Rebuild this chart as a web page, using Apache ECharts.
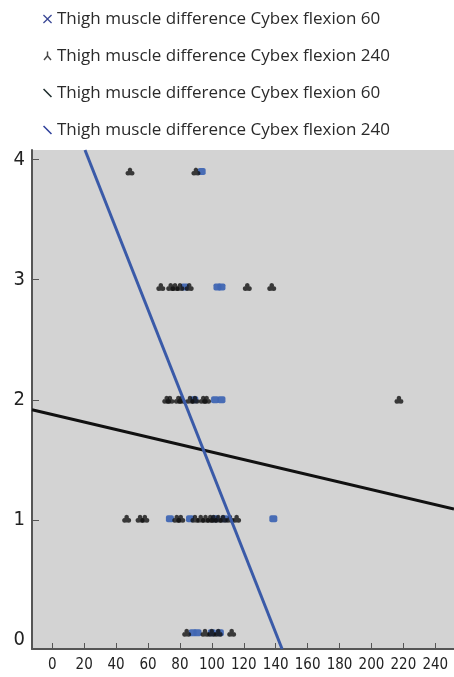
<!DOCTYPE html>
<html>
<head>
<meta charset="utf-8">
<script src="https://cdn.jsdelivr.net/npm/echarts@6/dist/echarts.min.js"></script>
<style>
html,body{margin:0;padding:0;background:#fff;}
#chart{width:454px;height:677px;}
</style>
</head>
<body>
<div id="chart"></div>
<script>
// Legend labels
const legendLabels = [
  'Thigh muscle difference Cybex flexion 60',
  'Thigh muscle difference Cybex flexion 240',
  'Thigh muscle difference Cybex flexion 60',
  'Thigh muscle difference Cybex flexion 240'
];
// Tick labels
const xTicks = [0,20,40,60,80,100,120,140,160,180,200,220,240];
const yTicks = [0,1,2,3,4];
// Scatter: flexion 60 (blue) as [x, y]
const flex60 = [
  [93.6,3.9],
  [83,2.94],[103.5,2.94],[106,2.94],
  [89,2.0],[102,2.0],[106,2.0],
  [73.7,1.01],[86.3,1.01],[102,1.01],[108,1.01],[138.5,1.01],
  [88,0.06],[91,0.06],[100,0.06],[105,0.06]
];
// Scatter: flexion 240 (black)
const flex240 = [
  [48.7,3.9],[90,3.9],
  [68,2.94],[74.2,2.94],[76.9,2.94],[80,2.94],[85.8,2.94],[122.2,2.94],[137.5,2.94],
  [71.7,2.0],[73.7,2.0],[79,2.0],[81,2.0],[86.3,2.0],[89.4,2.0],[94.6,2.0],[96.7,2.0],[217.2,2.0],
  [46.6,1.01],[55,1.01],[58,1.01],[78,1.01],[80.5,1.01],[89.4,1.01],[93,1.01],[96,1.01],[99,1.01],[101,1.01],[104,1.01],[107,1.01],[111.3,1.01],[115.5,1.01],
  [84.2,0.06],[95.7,0.06],[99.9,0.06],[104,0.06],[112.4,0.06]
];
// Fit lines (endpoints)
const fit60 = [[-12.7,1.917],[251.7,1.09]];
const fit240 = [[20.5,4.08],[144,-0.075]];

const FONT = "'Open Sans','Noto Sans',sans-serif";
const AXFONT = "'DejaVu Sans Condensed','DejaVu Sans',sans-serif";
const clubPath = 'path://M5,0L7,0.9L7.6,2.8L7.2,3.8L8.8,4L9.8,5.2L10,6.8L9.2,8.4L7.5,9L5.6,8.7L4.4,8.7L2.5,9L0.8,8.4L0,6.8L0.2,5.2L1.2,4L2.8,3.8L2.4,2.8L3,0.9Z';
const iconX = 'path://M1,0L5,4L9,0L10,1L6,5L10,9L9,10L5,6L1,10L0,9L4,5L0,1Z';
const iconTri = 'path://M4.2,0L5.8,0L5.8,4.5L9.5,8.8L8.3,10L5,6.2L1.7,10L0.5,8.8L4.2,4.5Z';
const iconLine = 'path://M0,1.2L1.2,0L10,8.8L8.8,10Z';

const names = ['s60','s240','l60','l240'];
const chart = echarts.init(document.getElementById('chart'));
chart.setOption({
  animation: false,
  backgroundColor: '#ffffff',
  legend: {
    orient: 'vertical',
    left: 38,
    top: 3,
    itemWidth: 9,
    itemHeight: 9,
    itemGap: 15,
    selectedMode: false,
    textStyle: {fontFamily: FONT, fontSize: 17, color: '#2a2a2a', lineHeight: 22},
    formatter: function(n){ return legendLabels[names.indexOf(n)]; },
    data: [
      {name:'s60', icon: iconX, itemStyle:{color:'#2e3d8f', borderWidth:0}},
      {name:'s240', icon: iconTri, itemStyle:{color:'#1a1a1a', borderWidth:0}},
      {name:'l60', icon: iconLine, itemStyle:{color:'#1b2a2a', borderWidth:0}},
      {name:'l240', icon: iconLine, itemStyle:{color:'#2c3e9a', borderWidth:0}}
    ]
  },
  grid: {
    left: 32, right: 0, top: 150, bottom: 28,
    show: true, backgroundColor: '#d3d3d3', borderWidth: 0
  },
  xAxis: {
    type: 'value', min: -12.7, max: 251.7,
    splitLine: {show:false},
    axisLine: {show:true, onZero:false, lineStyle:{color:'#555', width:2}},
    axisTick: {show:true, inside:true, length:6, customValues: xTicks, lineStyle:{color:'#555', width:1}},
    axisLabel: {customValues: xTicks, fontFamily: AXFONT, fontSize: 15, color:'#222', margin: 9}
  },
  yAxis: {
    type: 'value', min: -0.075, max: 4.08,
    splitLine: {show:false},
    axisLine: {show:true, onZero:false, lineStyle:{color:'#555', width:2}},
    axisTick: {show:true, inside:true, length:7, customValues: [1,2,3,4], lineStyle:{color:'#555', width:1}},
    axisLabel: {customValues: yTicks, fontFamily: AXFONT, fontSize: 20, color:'#222', margin: 7}
  },
  series: [
    {name:'s60', type:'scatter', data: flex60, symbol:'roundRect', symbolSize:[8,7],
     itemStyle:{color:'#4066b3', opacity:0.95}},
    {name:'s240', type:'scatter', data: flex240, symbol: clubPath, symbolSize:[9,8],
     itemStyle:{color:'#111'}},
    {name:'l60', type:'line', data: fit60, symbol:'none', lineStyle:{color:'#111', width:3}, clip:true},
    {name:'l240', type:'line', data: fit240, symbol:'none', lineStyle:{color:'#3a5aa8', width:3}, clip:true}
  ]
});
</script>
</body>
</html>
